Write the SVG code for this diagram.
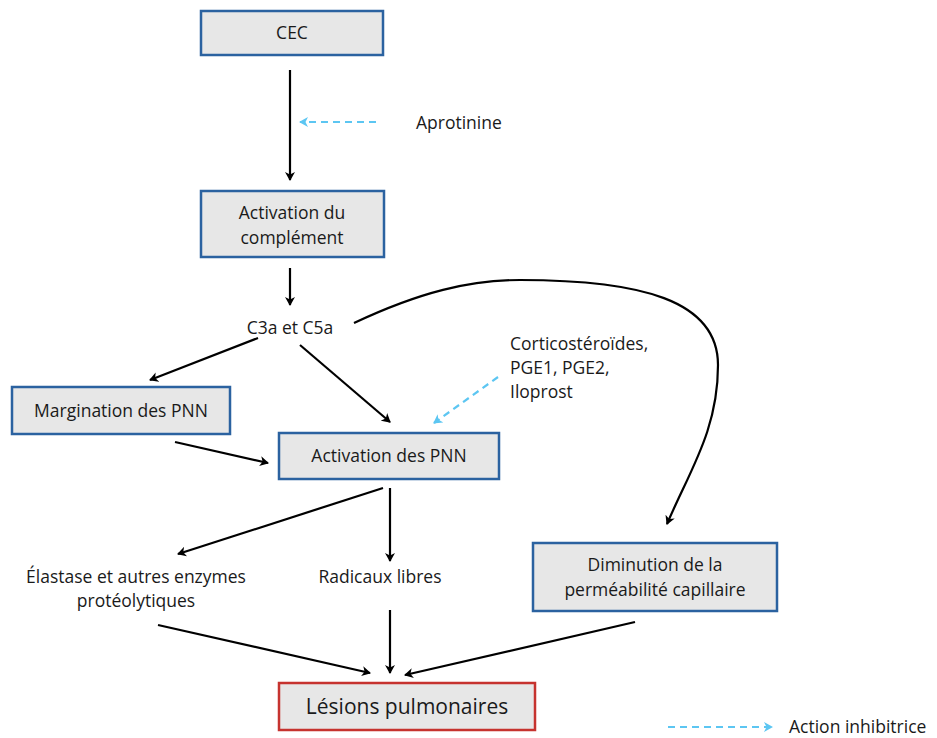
<svg xmlns="http://www.w3.org/2000/svg" width="937" height="738" viewBox="0 0 937 738">
<defs>
<style>
.box{fill:#e7e7e7;stroke:#2b62a0;stroke-width:2.5}
.red{fill:#e7e7e7;stroke:#c6332f;stroke-width:2.5}
text{font-family:"Open Sans","Liberation Sans",Arial,sans-serif;font-size:17.5px;fill:#1a1a1a;text-anchor:middle}
.l{text-anchor:start}
.c{fill:none;stroke:#000;stroke-width:2.2}
.d{fill:none;stroke:#5cc6f2;stroke-width:2.2;stroke-dasharray:7 5}
</style>
<marker id="ah" markerWidth="10" markerHeight="10" refX="8" refY="5" orient="auto" markerUnits="userSpaceOnUse">
<path d="M0,0 L9,5 L0,10 L2.5,5 Z" fill="#000"/>
</marker>
<marker id="ab" markerWidth="10" markerHeight="10" refX="8" refY="5" orient="auto" markerUnits="userSpaceOnUse">
<path d="M0,0 L9,5 L0,10 L2.5,5 Z" fill="#5cc6f2"/>
</marker>
</defs>
<rect width="937" height="738" fill="#fff"/>
<g id="connectors">
<line class="c" x1="290" y1="70" x2="290" y2="180" marker-end="url(#ah)"/>
<line class="d" x1="376" y1="122" x2="300" y2="122" marker-end="url(#ab)"/>
<line class="c" x1="290" y1="268" x2="290" y2="305" marker-end="url(#ah)"/>
<line class="c" x1="258" y1="338" x2="150" y2="380" marker-end="url(#ah)"/>
<line class="c" x1="300" y1="345" x2="390" y2="422" marker-end="url(#ah)"/>
<line class="d" x1="498" y1="377" x2="434" y2="423" marker-end="url(#ab)"/>
<path class="c" d="M354,323 C420,292 470,280 520,280 C640,280 718,300 718,365 C718,430 690,470 667,524" marker-end="url(#ah)"/>
<line class="c" x1="175" y1="442" x2="268" y2="463" marker-end="url(#ah)"/>
<line class="c" x1="383" y1="488" x2="178" y2="554" marker-end="url(#ah)"/>
<line class="c" x1="390" y1="488" x2="390" y2="561" marker-end="url(#ah)"/>
<line class="c" x1="158" y1="625" x2="370" y2="673" marker-end="url(#ah)"/>
<line class="c" x1="390" y1="610" x2="390" y2="673" marker-end="url(#ah)"/>
<line class="c" x1="635" y1="622" x2="405" y2="675" marker-end="url(#ah)"/>
<line class="d" x1="668" y1="727" x2="772" y2="727" marker-end="url(#ab)"/>
</g>
<g id="cec"><rect class="box" x="201" y="11" width="182" height="44"/><text x="292" y="39">CEC</text></g>
<g id="activation-complement"><rect class="box" x="201" y="191" width="183" height="66"/><text x="292" y="219">Activation du</text><text x="292" y="244">complément</text></g>
<g id="aprotinine"><text class="l" x="416" y="129">Aprotinine</text></g>
<g id="c3a"><text x="290" y="334">C3a et C5a</text></g>
<g id="corticos"><text class="l" x="510" y="350">Corticostéroïdes,</text><text class="l" x="510" y="374">PGE1, PGE2,</text><text class="l" x="510" y="398">Iloprost</text></g>
<g id="margination"><rect class="box" x="12" y="387" width="218" height="47"/><text x="121" y="417">Margination des PNN</text></g>
<g id="activation-pnn"><rect class="box" x="279" y="433" width="220" height="46"/><text x="389" y="462">Activation des PNN</text></g>
<g id="elastase"><text x="136" y="583">Élastase et autres enzymes</text><text x="136" y="607">protéolytiques</text></g>
<g id="radicaux"><text x="380" y="583">Radicaux libres</text></g>
<g id="diminution"><rect class="box" x="533" y="543" width="244" height="68"/><text x="655" y="571">Diminution de la</text><text x="655" y="596">perméabilité capillaire</text></g>
<g id="lesions"><rect class="red" x="279" y="683" width="256" height="47"/><text x="407" y="714" style="font-size:21px">Lésions pulmonaires</text></g>
<g id="legend"><text class="l" x="789" y="733">Action inhibitrice</text></g>
</svg>
